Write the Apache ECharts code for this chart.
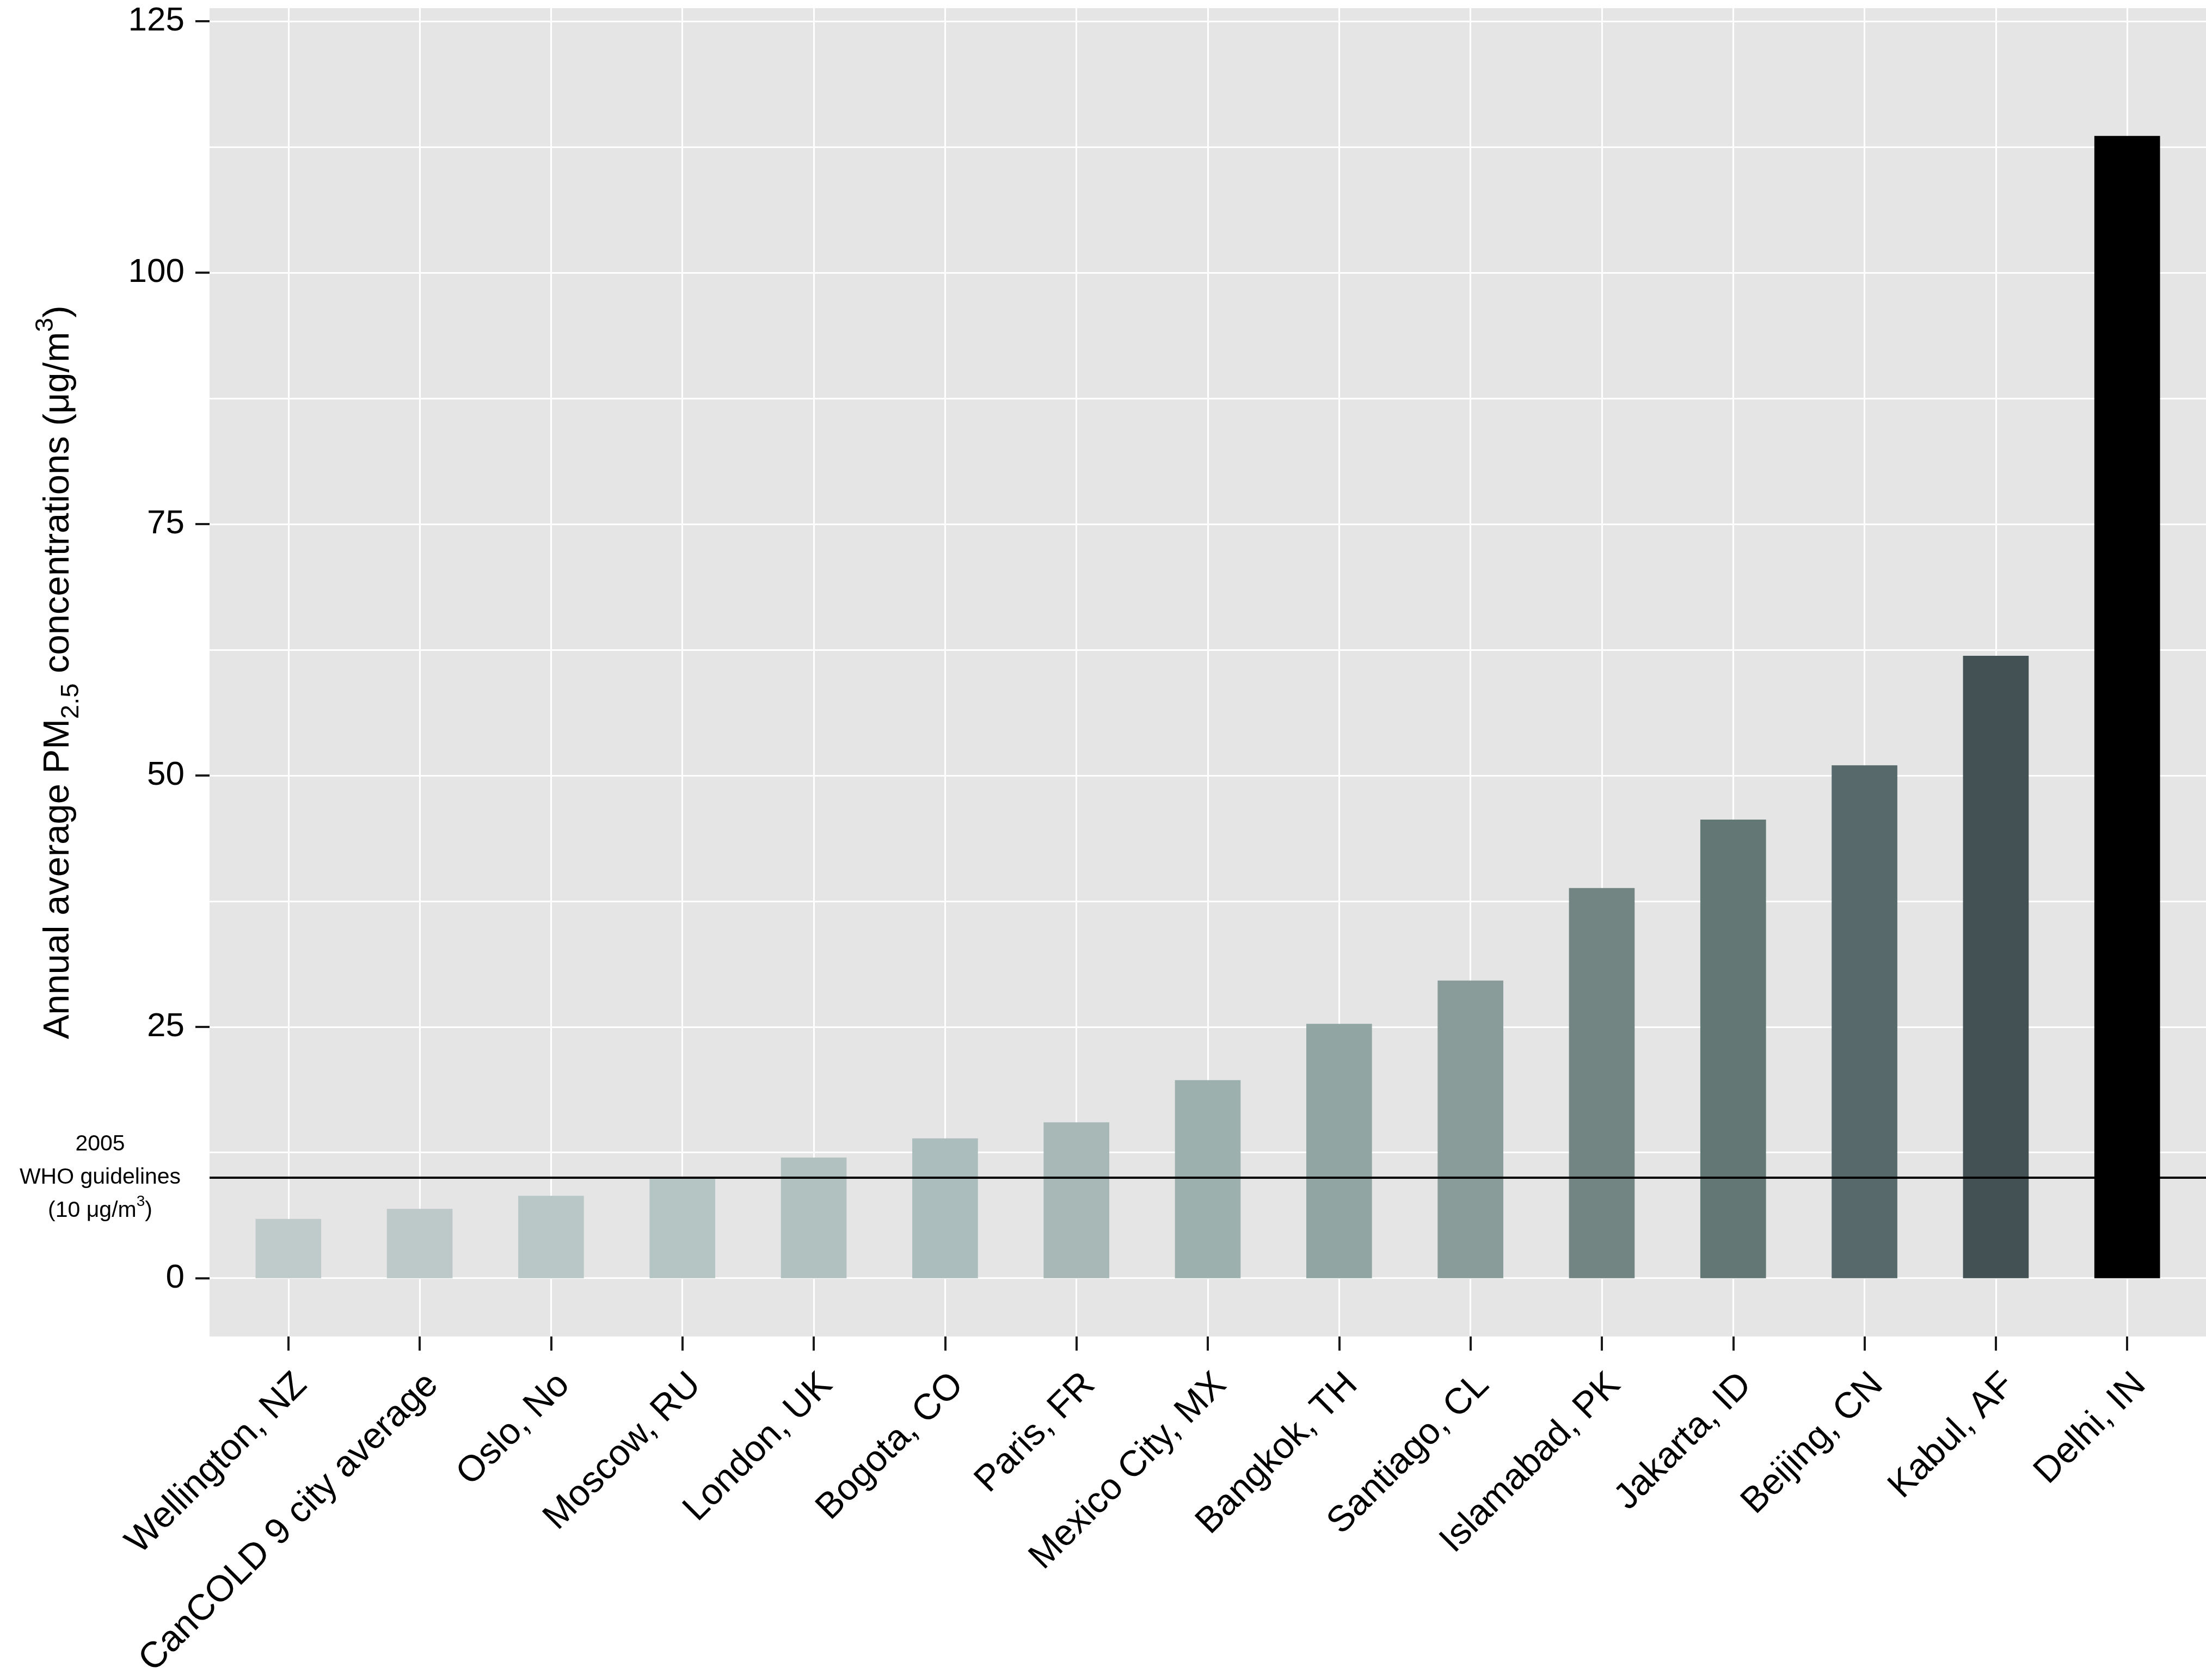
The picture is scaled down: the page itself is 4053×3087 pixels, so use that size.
<!DOCTYPE html>
<html>
<head>
<meta charset="utf-8">
<script src="https://cdn.jsdelivr.net/npm/echarts@6/dist/echarts.min.js"></script>
<style>
  html, body { margin: 0; padding: 0; background: #ffffff; }
  #chart { width: 4053px; height: 3087px; }
</style>
</head>
<body>
<div id="chart"></div>
<script>
const categories = [
  'Wellington, NZ', 'CanCOLD 9 city average', 'Oslo, No', 'Moscow, RU', 'London, UK',
  'Bogota, CO', 'Paris, FR', 'Mexico City, MX', 'Bangkok, TH', 'Santiago, CL',
  'Islamabad, PK', 'Jakarta, ID', 'Beijing, CN', 'Kabul, AF', 'Delhi, IN'
];
const pm25 = [5.9, 6.9, 8.2, 10.0, 12.0, 13.9, 15.5, 19.7, 25.3, 29.6, 38.8, 45.6, 51.0, 61.9, 113.6];
const yTicks = [0, 25, 50, 75, 100, 125];
const yMinorTicks = [12.5, 37.5, 62.5, 87.5, 112.5];
const whoGuideline = 10;
const barColors = [
  '#BFCBCA', '#BCC9C8', '#B9C7C6', '#B5C5C4', '#B1C1C0',
  '#ABBDBC', '#A7B8B7', '#9CB0AE', '#91A5A3', '#899C9A',
  '#728583', '#637775', '#57696B', '#435155', '#000000'
];

const FONT = '"Liberation Sans", Arial, Helvetica, sans-serif';
const catIdx = categories.map((c, i) => i);

const chart = echarts.init(document.getElementById('chart'), null, { renderer: 'canvas' });

const yMin = -5.8, yMax = 126.3;

chart.setOption({
  backgroundColor: '#ffffff',
  animation: false,
  textStyle: { fontFamily: FONT },
  grid: {
    left: 385, right: 0, top: 15, bottom: 619,
    show: true, backgroundColor: '#E5E5E5', borderWidth: 0
  },
  xAxis: {
    type: 'value',
    min: -0.6, max: categories.length - 0.4,
    axisLine: { show: false, onZero: false },
    axisTick: { show: true, length: 26, customValues: catIdx, lineStyle: { color: '#1a1a1a', width: 4 } },
    axisLabel: {
      customValues: catIdx,
      rotate: 45, margin: 55,
      align: 'right', verticalAlign: 'top',
      fontSize: 67, color: '#000', fontFamily: FONT,
      formatter: v => categories[Math.round(v)]
    },
    splitLine: { show: true, lineStyle: { color: '#ffffff', width: 3 } }
  },
  yAxis: [
    {
      type: 'value',
      min: yMin, max: yMax,
      axisLine: { show: false, onZero: false },
      axisTick: { show: true, length: 26, customValues: yTicks, lineStyle: { color: '#1a1a1a', width: 4 } },
      axisLabel: { customValues: yTicks, margin: 46, fontSize: 62, color: '#000', fontFamily: FONT },
      splitLine: { show: true, lineStyle: { color: '#ffffff', width: 3 } },
      name: '{n|Annual average PM}{sub|2.5}{n| concentrations (μg/m}{sup|3}{n|)}',
      nameLocation: 'middle', nameRotate: 90, nameGap: 230,
      nameMoveOverlap: false,
      nameTextStyle: {
        fontFamily: FONT, color: '#000',
        rich: {
          n: { fontSize: 67, lineHeight: 94, fontFamily: FONT, color: '#000' },
          sub: { fontSize: 47, lineHeight: 48, verticalAlign: 'bottom', fontFamily: FONT, color: '#000' },
          sup: { fontSize: 47, lineHeight: 48, verticalAlign: 'top', fontFamily: FONT, color: '#000' }
        }
      }
    },
    {
      type: 'value',
      min: yMin, max: yMax,
      position: 'left',
      axisLine: { show: false, onZero: false },
      axisTick: { show: false, customValues: yMinorTicks },
      axisLabel: { show: false, customValues: yMinorTicks },
      splitLine: { show: true, lineStyle: { color: '#ffffff', width: 3 } }
    }
  ],
  series: [{
    type: 'bar',
    xAxisIndex: 0, yAxisIndex: 0,
    barWidth: '50%',
    data: pm25.map((v, i) => ({ value: [i, v], itemStyle: { color: barColors[i] } })),
    markLine: {
      silent: true,
      symbol: ['none', 'none'],
      z: 10,
      lineStyle: { color: '#000', width: 4, type: 'solid' },
      label: {
        show: true, position: 'start', distance: 201, align: 'center',
        formatter: '{a|2005}\n{a|WHO guidelines}\n{a|(10 μg/m}{s|3}{a|)}',
        rich: {
          a: { fontSize: 41, lineHeight: 61, fontFamily: FONT, color: '#000' },
          s: { fontSize: 28, lineHeight: 38, verticalAlign: 'top', fontFamily: FONT, color: '#000' }
        }
      },
      data: [{ yAxis: whoGuideline }]
    }
  }]
});
</script>
</body>
</html>
